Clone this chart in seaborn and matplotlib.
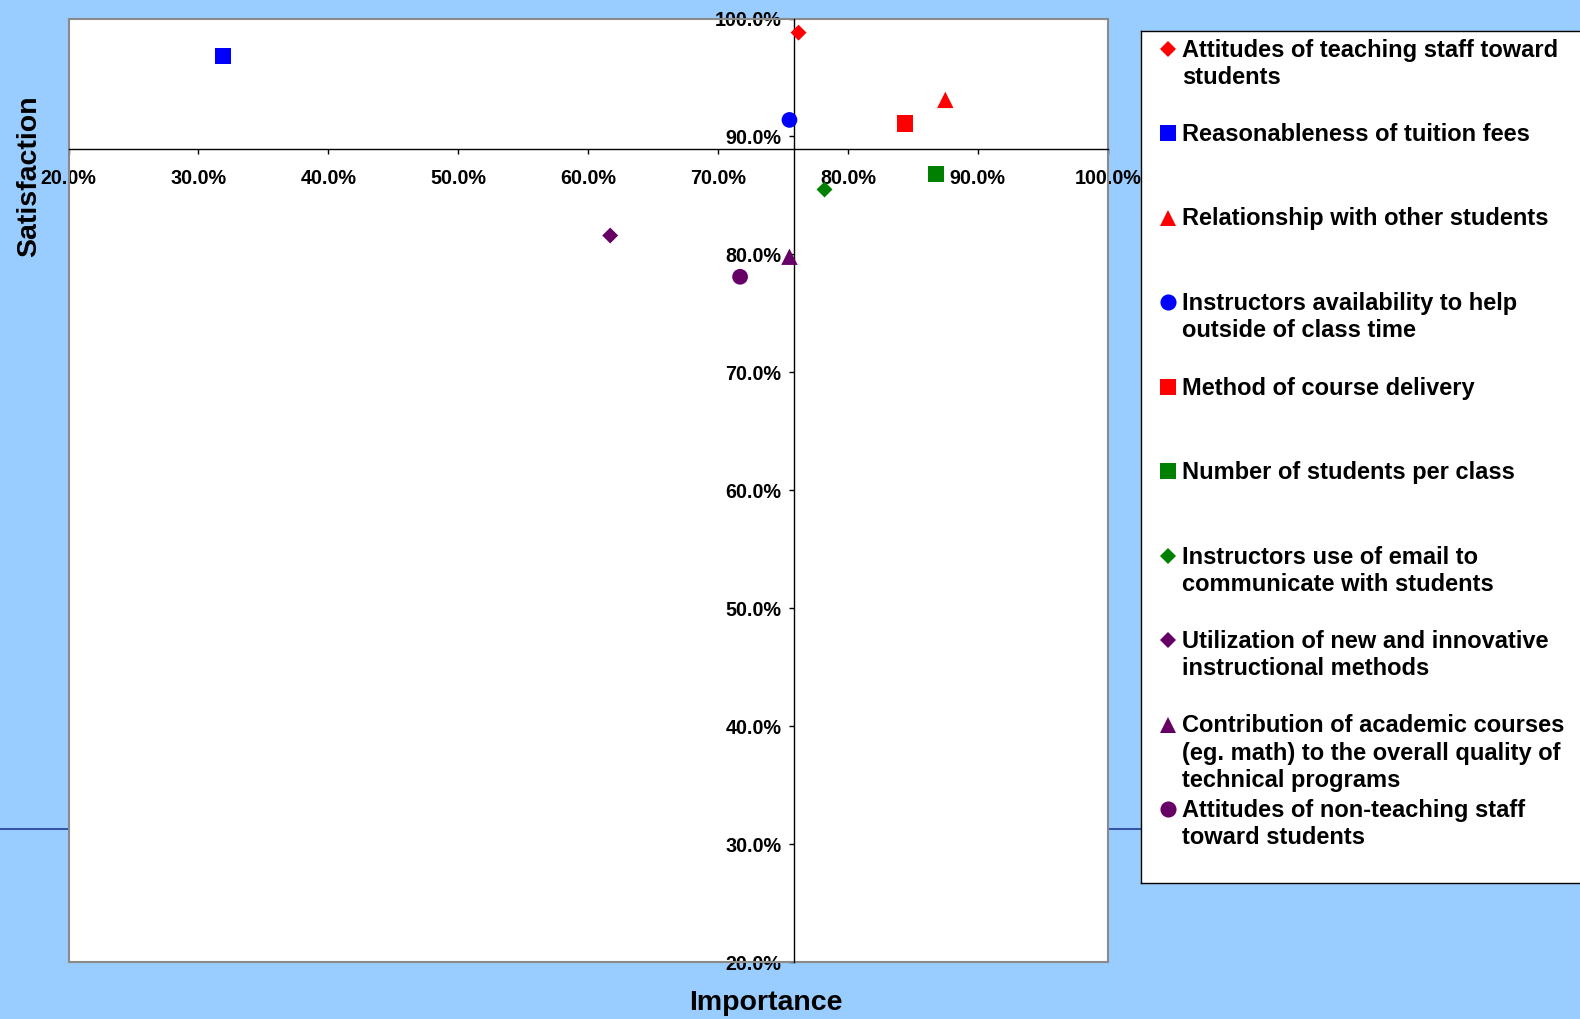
import pandas as pd
import seaborn as sns
import matplotlib.pyplot as plt
from matplotlib.lines import Line2D
from matplotlib.patches import Rectangle
from matplotlib.ticker import FuncFormatter

# ---- survey results (percent) ----
factors = [
    "Attitudes of teaching staff toward\nstudents",
    "Reasonableness of tuition fees",
    "Relationship with other students",
    "Instructors availability to help\noutside of class time",
    "Method of course delivery",
    "Number of students per class",
    "Instructors use of email to\ncommunicate with students",
    "Utilization of new and innovative\ninstructional methods",
    "Contribution of academic courses\n(eg. math) to the overall quality of\ntechnical programs",
    "Attitudes of non-teaching staff\ntoward students",
]
importance = [76.2, 31.9, 87.5, 75.5, 84.4, 86.8, 78.2, 61.7, 75.5, 71.7]
satisfaction = [98.8, 96.8, 93.1, 91.4, 91.1, 86.8, 85.5, 81.6, 79.8, 78.1]
axis_ticks = [20, 30, 40, 50, 60, 70, 80, 90, 100]

# axes cross at these values
cross_importance = 75.87
cross_satisfaction = 88.93

# ---- styling ----
colors = ["#FF0000", "#0000FF", "#FF0000", "#0000FF", "#FF0000",
          "#008000", "#008000", "#660066", "#660066", "#660066"]
shapes = ["D", "s", "^", "o", "s", "s", "D", "D", "^", "o"]
# 'D' is sized by its inner square, so a smaller value gives the same span
marker_pt = {"D": 8.1, "s": 11.8, "^": 11.8, "o": 11.3}

BG = "#99CCFF"
FONT = ["Liberation Sans", "DejaVu Sans"]

sns.set_theme(style="white")
plt.rcParams["font.family"] = FONT
plt.rcParams["font.weight"] = "bold"

W, H = 1580, 1019
fig = plt.figure(figsize=(W / 100, H / 100), dpi=100, facecolor=BG)

# thin dark-blue rule running across the slide behind the chart
fig.add_artist(Line2D([0, 1], [1 - 829 / H] * 2, color="#1F3C99", lw=1.2,
                      transform=fig.transFigure, zorder=-5))

# ---- plot area ----
px_l, px_r, px_t, px_b = 68.5, 1107.7, 18.5, 962
ax = fig.add_axes([px_l / W, 1 - px_b / H, (px_r - px_l) / W, (px_b - px_t) / H])
ax.set_facecolor("white")

df = pd.DataFrame({"factor": factors, "importance": importance,
                   "satisfaction": satisfaction, "shape": shapes})
palette = dict(zip(factors, colors))
for m in ["D", "s", "^", "o"]:
    sub = df[df["shape"] == m]
    sns.scatterplot(data=sub, x="importance", y="satisfaction", hue="factor",
                    palette=palette, marker=m, s=marker_pt[m] ** 2,
                    linewidth=0, legend=False, ax=ax, zorder=5, clip_on=False)

ax.set_xlim(20, 100)
ax.set_ylim(20, 100)
ax.set_xticks(axis_ticks)
ax.set_yticks(axis_ticks)
fmt = FuncFormatter(lambda v, p: f"{v:.1f}%")
ax.xaxis.set_major_formatter(fmt)
ax.yaxis.set_major_formatter(fmt)
ax.set_xlabel("")
ax.set_ylabel("")

# crossing axis lines
ax.spines["left"].set_position(("data", cross_importance))
ax.spines["bottom"].set_position(("data", cross_satisfaction))
for s in ["left", "bottom"]:
    ax.spines[s].set_color("black")
    ax.spines[s].set_linewidth(1.0)
    ax.spines[s].set_zorder(3)
for s in ["top", "right"]:
    ax.spines[s].set_visible(False)

ax.tick_params(axis="both", direction="out", length=3.6, width=1.0,
               color="black", labelsize=14.2, labelcolor="black")
ax.tick_params(axis="x", pad=11.0, bottom=True)
ax.tick_params(axis="y", pad=5.5, left=True)
for lab in ax.get_xticklabels() + ax.get_yticklabels():
    lab.set_fontweight("bold")

# gray frame of the plot area, kept beneath the tick labels
ax.add_patch(Rectangle((0, 0), 1, 1, transform=ax.transAxes, fill=False,
                       edgecolor="#8A8A8A", lw=1.5, clip_on=False, zorder=1.0))

fig.text(29 / W, 1 - 176 / H, "Satisfaction", rotation=90, ha="center",
         va="center", fontsize=20.5, fontweight="bold", color="black")
fig.text(766 / W, 1 - 1003 / H, "Importance", ha="center", va="center",
         fontsize=20.5, fontweight="bold", color="black")

# ---- legend box ----
lg_l, lg_t, lg_b = 1140.7, 30.7, 883
lg_r = W + 4
lax = fig.add_axes([lg_l / W, 1 - lg_b / H, (lg_r - lg_l) / W, (lg_b - lg_t) / H])
lax.set_xlim(lg_l, lg_r)
lax.set_ylim(lg_b, lg_t)
lax.set_xticks([])
lax.set_yticks([])
lax.set_facecolor("white")
for s in lax.spines.values():
    s.set_color("black")
    s.set_linewidth(1.0)

legend_marker_pt = {"D": 8.3, "s": 12.0, "^": 12.0, "o": 11.6}
slot0, slot_step = 48.5, 84.5
for i, (lab, c, m) in enumerate(zip(factors, colors, shapes)):
    yc = slot0 + i * slot_step
    lax.plot([1167.7], [yc], marker=m, color=c, markersize=legend_marker_pt[m],
             markeredgewidth=0, linestyle="none")
    lax.text(1181.7, yc - 10.0, lab, ha="left", va="top", fontsize=17,
             fontweight="bold", color="black", linespacing=1.24)

fig.savefig("out.png", dpi=100, facecolor=BG)
